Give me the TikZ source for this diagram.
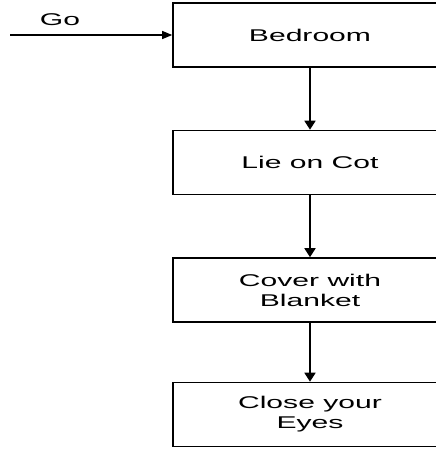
\documentclass[tikz,border=0pt]{standalone}
\usepackage{fontspec}
\setmainfont{Liberation Sans}
\usetikzlibrary{arrows.meta}
\newcommand{\widetext}[1]{\scalebox{1.77}[1]{#1}}
\begin{document}
\begin{tikzpicture}[x=1pt,y=-1pt,
  stepbox/.style={draw=black, line width=1.6pt, minimum width=274pt, minimum height=64pt,
    inner sep=0pt, align=center, font=\fontsize{17}{20}\selectfont},
  flow/.style={line width=1.8pt, -{Triangle[length=9pt,width=11pt]}},
  golabel/.style={font=\fontsize{17}{20}\selectfont}]
\useasboundingbox (0,0) rectangle (436,451);
\node[stepbox] (bed) at (310,35) {\widetext{Bedroom}};
\node[stepbox] (lie) at (310,162.5) {\widetext{Lie on Cot}};
\node[stepbox] (cover) at (310,290) {\widetext{Cover with}\\\widetext{Blanket}};
\node[stepbox] (close) at (310,414.5) {\widetext{Close your}\\\widetext{Eyes}};
\coordinate (start) at (10,35);
\draw[line width=1.2pt, -{Triangle[length=10pt,width=8pt]}] (start) -- (bed.west);
\node[golabel] (go) at (60,20) {\widetext{Go}};
\draw[flow] (bed) -- (lie);
\draw[flow] (lie) -- (cover);
\draw[flow] (cover) -- (close);
\end{tikzpicture}
\end{document}
